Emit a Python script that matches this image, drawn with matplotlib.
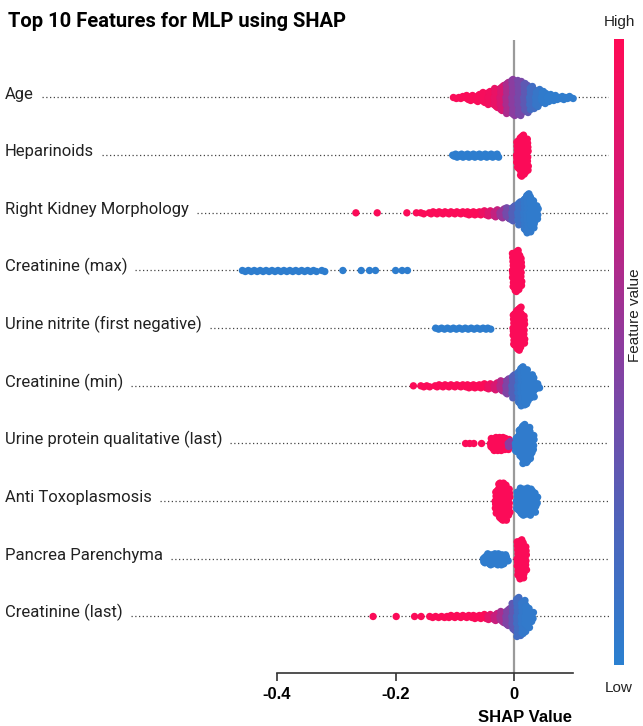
import numpy as np
import matplotlib
matplotlib.use("Agg")
import matplotlib.pyplot as plt
from matplotlib import font_manager as fm
from matplotlib.colors import LinearSegmentedColormap
from matplotlib.cm import ScalarMappable
import matplotlib.transforms as mtransforms

# ---- data ------------------------------------------------------------------
# per feature: SHAP-value bins, number of points in each bin, mean feature value
# (0 = low / blue, 1 = high / red)
FEATURES = ["Age", "Heparinoids", "Right Kidney Morphology", "Creatinine (max)",
            "Urine nitrite (first negative)", "Creatinine (min)",
            "Urine protein qualitative (last)", "Anti Toxoplasmosis",
            "Pancrea Parenchyma", "Creatinine (last)"]

age_x = [-0.10, -0.09, -0.08, -0.07, -0.06, -0.05, -0.04, -0.03, -0.02, -0.01,
         0.00, 0.01, 0.02, 0.03, 0.04, 0.05, 0.06, 0.07, 0.08, 0.09, 0.097]
age_n = [2, 3, 5, 6, 8, 11, 14, 20, 26, 32, 37, 36, 30, 24, 18, 13, 8, 6, 4, 3, 2]
age_c = [0.97, 0.97, 0.97, 0.97, 0.96, 0.95, 0.93, 0.88, 0.8, 0.62,
         0.5, 0.42, 0.3, 0.15, 0.08, 0.04, 0.03, 0.03, 0.03, 0.03, 0.03]

hep_x = [-0.10, -0.09, -0.08, -0.07, -0.06, -0.05, -0.04, -0.03, 0.008, 0.014, 0.02]
hep_n = [4, 4, 4, 4, 4, 4, 4, 4, 30, 42, 34]
hep_c = [0.02] * 8 + [0.98, 0.98, 0.98]

rkm_x = [-0.267, -0.231, -0.181, -0.165, -0.155, -0.14, -0.13, -0.12, -0.11, -0.10,
         -0.09, -0.08, -0.07, -0.06, -0.05, -0.04, -0.03, -0.02, -0.01, 0.00,
         0.01, 0.02, 0.025, 0.03, 0.037]
rkm_n = [1, 1, 1, 1, 2, 3, 3, 3, 3, 3, 3, 4, 4, 4, 5, 6, 8, 10, 12, 16, 24, 34, 40, 30, 16]
rkm_c = [0.98] * 14 + [0.9, 0.82, 0.7, 0.55, 0.4, 0.25, 0.12, 0.06, 0.05, 0.04, 0.04]

cmax_x = [-0.456, -0.446, -0.436, -0.426, -0.416, -0.406, -0.396, -0.386, -0.376,
          -0.366, -0.356, -0.346, -0.336, -0.322, -0.289, -0.258, -0.244, -0.234,
          -0.200, -0.189, -0.180, 0.001, 0.005, 0.009]
cmax_n = [2] * 14 + [1] * 7 + [36, 42, 32]
cmax_c = [0.02] * 21 + [0.98, 0.98, 0.98]

nit_x = [-0.13, -0.12, -0.11, -0.10, -0.09, -0.08, -0.07, -0.06, -0.05, -0.042,
         0.002, 0.008, 0.014]
nit_n = [2] * 10 + [34, 44, 30]
nit_c = [0.02] * 10 + [0.98, 0.98, 0.98]

cmin_x = [-0.17, -0.155, -0.145, -0.13, -0.12, -0.11, -0.10, -0.09, -0.08, -0.07,
          -0.06, -0.05, -0.04, -0.03, -0.02, -0.01, 0.00, 0.01, 0.015, 0.02, 0.03, 0.04]
cmin_n = [1, 2, 2, 3, 3, 3, 3, 3, 4, 4, 4, 5, 6, 8, 11, 16, 24, 34, 40, 36, 24, 6]
cmin_c = [0.98] * 12 + [0.9, 0.8, 0.65, 0.45, 0.25, 0.1, 0.05, 0.04, 0.04, 0.04]

upq_x = [-0.082, -0.075, -0.068, -0.055, -0.036, -0.03, -0.024, -0.018, -0.012,
         -0.006, 0.006, 0.012, 0.018, 0.024, 0.03]
upq_n = [1, 1, 1, 1, 12, 14, 14, 14, 12, 6, 16, 30, 40, 34, 18]
upq_c = [0.98] * 9 + [0.5] + [0.04] * 5

tox_x = [-0.028, -0.022, -0.016, -0.011, 0.008, 0.014, 0.02, 0.026, 0.032, 0.036]
tox_n = [24, 38, 38, 28, 20, 28, 26, 28, 22, 10]
tox_c = [0.98] * 4 + [0.03] * 6

pan_x = [-0.048, -0.042, -0.036, -0.03, -0.024, -0.018, -0.013, 0.009, 0.013, 0.017]
pan_n = [8, 12, 10, 12, 12, 10, 6, 36, 40, 26]
pan_c = [0.03] * 7 + [0.98] * 3

clast_x = [-0.238, -0.199, -0.168, -0.157, -0.14, -0.13, -0.12, -0.11, -0.10, -0.09,
           -0.08, -0.07, -0.06, -0.05, -0.04, -0.03, -0.02, -0.01, 0.00, 0.008,
           0.016, 0.022, 0.029]
clast_n = [1, 1, 1, 1, 2, 2, 2, 3, 3, 3, 3, 4, 4, 5, 6, 8, 12, 18, 28, 40, 34, 22, 10]
clast_c = [0.98] * 14 + [0.85, 0.72, 0.6, 0.45, 0.3, 0.15, 0.06, 0.05, 0.05]

BINS = [(age_x, age_n, age_c), (hep_x, hep_n, hep_c), (rkm_x, rkm_n, rkm_c),
        (cmax_x, cmax_n, cmax_c), (nit_x, nit_n, nit_c), (cmin_x, cmin_n, cmin_c),
        (upq_x, upq_n, upq_c), (tox_x, tox_n, tox_c), (pan_x, pan_n, pan_c),
        (clast_x, clast_n, clast_c)]

# ---- style -------------------------------------------------------------------
names = {f.name for f in fm.fontManager.ttflist}
NARROW = "Liberation Sans Narrow" if "Liberation Sans Narrow" in names else "Roboto"
SANS = "Liberation Sans" if "Liberation Sans" in names else "DejaVu Sans"

cmap = LinearSegmentedColormap.from_list(
    "shap_rb", ["#2a80d0", "#5360b8", "#8a3da0", "#d01a78", "#ff0a55"])

W, H = 643, 726
fig = plt.figure(figsize=(W / 100, H / 100), dpi=100)


def fx(px):
    return px / W


def fy(py):
    return 1 - py / H


# axes: left at 5 px, right at 609 px, top 40 px, bottom (spine) 673 px
ax = fig.add_axes([fx(5), fy(673), (609 - 5) / W, (673 - 40) / H])
ax.set_xlim(-0.859, 0.160)
ax.set_ylim(9.98, -0.997)
ROW_PX = 57.65
STEP = 1.0 / ROW_PX       # one pixel in row units

ax.axvline(0, color="#9a9a9a", lw=1.6, zorder=1)

for i, (xs, ns, cs) in enumerate(BINS):
    px, py, pc = [], [], []
    for c, n, h in zip(xs, ns, cs):
        for j in range(n):
            k = (j + 1) // 2 * (1 if j % 2 else -1)
            if n == 1:
                dx = 0.0
            elif n <= 4:
                dx = 0.010 * ((j + 0.5) / n - 0.5)
            else:
                dx = 0.008 * (((j * 0.618034) % 1.0) - 0.5)
            px.append(c + dx)
            py.append(i + k * STEP)
            pc.append(h)
    ax.scatter(px, py, c=pc, cmap=cmap, vmin=0, vmax=1, s=28,
               linewidths=0, zorder=3)

# feature labels with dotted leaders
trans = mtransforms.blended_transform_factory(ax.transAxes, ax.transData)
labels = []
for i, name in enumerate(FEATURES):
    t = ax.text(0, i + 0.02, name, transform=trans, ha="left", va="baseline",
                fontsize=12, family=NARROW, color="#222222")
    labels.append(t)

fig.canvas.draw()
renderer = fig.canvas.get_renderer()
inv = ax.transData.inverted()
for i, t in enumerate(labels):
    bb = t.get_window_extent(renderer)
    x0 = inv.transform((bb.x1 + 8, 0))[0]
    ax.plot([x0, 0.160], [i, i], color="#444444", lw=0.9,
            linestyle=(0, (1, 2)), zorder=2)

# x axis
for s in ["top", "right", "left"]:
    ax.spines[s].set_visible(False)
ax.spines["bottom"].set_bounds(-0.4, 0.1)
ax.spines["bottom"].set_color("#333333")
ax.spines["bottom"].set_linewidth(1.2)
ax.set_yticks([])
ax.set_xticks([-0.4, -0.2, 0])
ax.set_xticklabels(["-0.4", "-0.2", "0"], fontsize=12, fontweight="bold",
                   family=SANS)
ax.tick_params(axis="x", length=6, width=1.2, color="#333333", pad=4)

fig.text(fx(525), fy(718), "SHAP Value", ha="center", va="center",
         fontsize=12, fontweight="bold", family=SANS)

fig.text(fx(8), fy(27), "Top 10 Features for MLP using SHAP", ha="left",
         va="baseline", fontsize=14.5, fontweight="bold", family=NARROW)

# colour bar
cax = fig.add_axes([fx(614), fy(665), 10 / W, (665 - 39) / H])
cb = fig.colorbar(ScalarMappable(cmap=cmap), cax=cax)
cb.outline.set_visible(False)
cb.set_ticks([])
fig.text(fx(619), fy(22), "High", ha="center", va="center", fontsize=11,
         family=SANS, color="#222222")
fig.text(fx(619), fy(688), "Low", ha="center", va="center", fontsize=11,
         family=SANS, color="#222222")
fig.text(fx(635), fy(315), "Feature value", ha="center", va="center",
         rotation=90, fontsize=11, family=SANS, color="#222222")

fig.savefig("out.png", dpi=100)
